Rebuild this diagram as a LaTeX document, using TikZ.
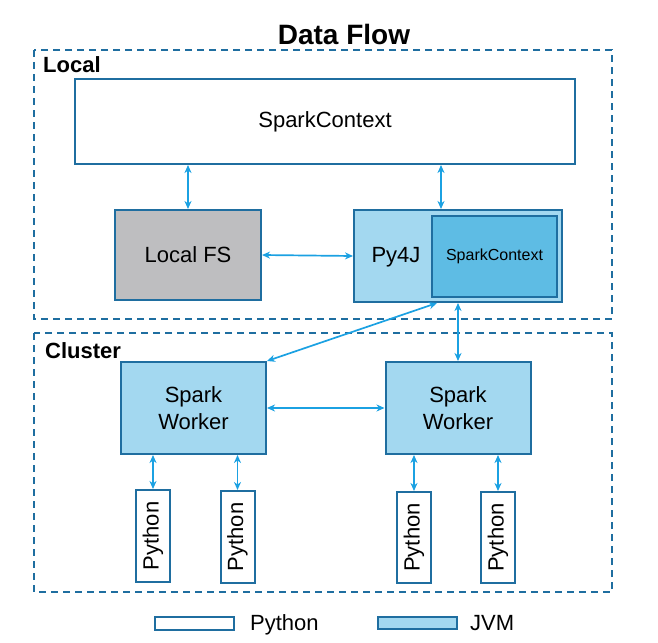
\documentclass[tikz,border=0pt]{standalone}
\usepackage{fontspec}
\usepackage{graphicx}
\setmainfont{Liberation Sans}
\usetikzlibrary{arrows.meta,positioning}
\definecolor{edgeblue}{RGB}{31,110,160}
\definecolor{arrowblue}{RGB}{27,161,226}
\definecolor{jvmlight}{RGB}{163,216,240}
\definecolor{jvmdark}{RGB}{94,188,228}
\definecolor{fsgray}{RGB}{190,190,192}
\begin{document}
\begin{tikzpicture}[x=1pt,y=-1pt,
  box/.style={draw=edgeblue,line width=2pt,inner sep=0pt,align=center,font=\fontsize{22}{27}\selectfont},
  area/.style={draw=edgeblue,line width=2pt,dash pattern=on 7pt off 5pt},
  tag/.style={anchor=base west,inner sep=0pt,font=\bfseries\fontsize{22}{26}\selectfont},
  txt/.style={anchor=base west,inner sep=0pt,font=\fontsize{22}{26}\selectfont},
  flow/.style={draw=arrowblue,line width=1.7pt,{Stealth[length=8pt,width=7pt,inset=2.5pt]}-{Stealth[length=8pt,width=7pt,inset=2.5pt]}}]
  \useasboundingbox (0,0) rectangle (658,642);

  \node[anchor=base,inner sep=0pt,font=\bfseries\fontsize{28}{32}\selectfont] (title) at (344,45) {Data Flow};

  \draw[area] (34,50) rectangle (612,319);
  \node[tag] (local) at (43,72) {Local};
  \draw[area] (34,333) rectangle (612,592);
  \node[tag] (cluster) at (45,358) {Cluster};

  \node[box,fill=white,minimum width=500pt,minimum height=85pt] (sc) at (325,121.5) {SparkContext};
  \node[box,fill=fsgray,minimum width=146pt,minimum height=90pt] (fs) at (188,255) {Local FS};
  \node[box,fill=jvmlight,minimum width=208pt,minimum height=92pt] (py) at (458,256) {};
  \node[font=\fontsize{22}{26}\selectfont,inner sep=0pt] (py4j) at (396,257) {Py4J};
  \node[box,fill=jvmdark,minimum width=125pt,minimum height=81pt,font=\fontsize{16}{19}\selectfont] (pysc) at (494.5,256.5) {SparkContext};

  \node[box,fill=jvmlight,minimum width=145pt,minimum height=92pt] (w1) at (193.5,408) {Spark\\Worker};
  \node[box,fill=jvmlight,minimum width=145pt,minimum height=92pt] (w2) at (458,408) {Spark\\Worker};

  \node[box,fill=white,minimum width=34pt,minimum height=92pt] (p1) at (153,536) {\rotatebox{90}{Python}};
  \node[box,fill=white,minimum width=34pt,minimum height=92pt] (p2) at (237.5,537) {\rotatebox{90}{Python}};
  \node[box,fill=white,minimum width=34pt,minimum height=91pt] (p3) at (414,537.5) {\rotatebox{90}{Python}};
  \node[box,fill=white,minimum width=34pt,minimum height=91pt] (p4) at (498,537.5) {\rotatebox{90}{Python}};

  \draw[flow] (fs.north |- sc.south) -- (fs.north);
  \draw[flow] ([xshift=-17pt]py.north |- sc.south) -- ([xshift=-17pt]py.north);
  \draw[flow] (fs.east) -- (py.west);
  \draw[flow] ([xshift=-21pt]py.south) -- (w1.north east);
  \draw[flow] (py.south) -- (w2.north);
  \draw[flow] (w1.east) -- (w2.west);

  \draw[flow] (w1.south -| p1.north) -- (p1.north);
  \draw[flow] (w1.south -| p2.north) -- (p2.north);
  \draw[flow] (w2.south -| p3.north) -- (p3.north);
  \draw[flow] (w2.south -| p4.north) -- (p4.north);

  \node[box,fill=white,minimum width=79pt,minimum height=13pt] (legpy) at (194.5,623.5) {};
  \node[txt] (legpytext) at (250,630) {Python};
  \node[box,fill=jvmlight,minimum width=79pt,minimum height=12pt] (legjvm) at (417.5,623) {};
  \node[txt] (legjvmtext) at (470,630) {JVM};
\end{tikzpicture}
\end{document}
